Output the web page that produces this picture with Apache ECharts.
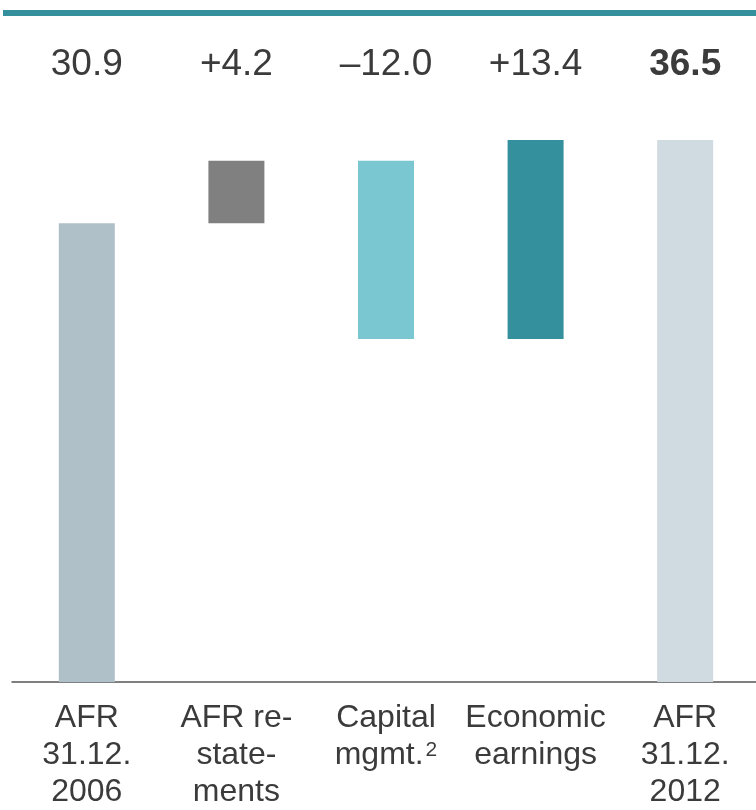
<!DOCTYPE html>
<html>
<head>
<meta charset="utf-8">
<script src="https://cdn.jsdelivr.net/npm/echarts@6/dist/echarts.min.js"></script>
<style>
  html, body { margin: 0; padding: 0; background: #fff; }
</style>
</head>
<body>
<div id="main" style="width:756px;height:810px"></div>
<script>
// categories along the bottom axis
var categories = ['AFR\n31.12.\n2006', 'AFR re-\nstate-\nments', 'Capital\nmgmt.{sup|2}', 'Economic\nearnings', 'AFR\n31.12.\n2012']
// labels shown above each bar
var valueLabels = ['30.9', '+4.2', '–12.0', '+13.4', '{b|36.5}']
// invisible base of each floating bar
var baseValues = [0, 30.9, 23.1, 23.1, 0]
// visible height of each bar
var barValues = [30.9, 4.2, 12.0, 13.4, 36.5]
var barColors = ['#b0c0c9', '#808080', '#7ac7d1', '#34909c', '#d0dae1']

var font = '"Liberation Sans", Arial, Helvetica, sans-serif'
var textColor = '#3b3b3b'

var myChart = echarts.init(document.getElementById('main'))

var option = {
  backgroundColor: '#fff',
  animation: false,
  grid: {
    left: 12,
    width: 748,
    top: 88,
    bottom: 128,
    outerBoundsMode: 'none'
  },
  xAxis: [
    {
      type: 'category',
      data: categories,
      position: 'bottom',
      axisLine: { lineStyle: { color: '#555', width: 1.5 } },
      axisTick: { show: false },
      axisLabel: {
        interval: 0,
        margin: 18,
        color: textColor,
        fontFamily: font,
        fontSize: 32,
        lineHeight: 37,
        rich: {
          sup: { fontFamily: font, fontSize: 21, color: textColor, lineHeight: 37, padding: [0, 0, 10, 2] }
        }
      }
    },
    {
      type: 'category',
      data: valueLabels,
      position: 'top',
      axisLine: { show: false },
      axisTick: { show: false },
      axisLabel: {
        interval: 0,
        margin: 5,
        color: textColor,
        fontFamily: font,
        fontSize: 37,
        rich: {
          b: { fontFamily: font, fontSize: 37, fontWeight: 'bold', color: textColor }
        }
      }
    }
  ],
  yAxis: {
    type: 'value',
    min: 0,
    max: 40,
    show: false,
    splitLine: { show: false }
  },
  graphic: [
    {
      type: 'rect',
      shape: { x: 3, y: 10, width: 760, height: 6 },
      style: { fill: '#34909c' }
    }
  ],
  series: [
    {
      type: 'bar',
      stack: 'wf',
      barWidth: 56,
      silent: true,
      itemStyle: { color: 'transparent' },
      data: baseValues
    },
    {
      type: 'bar',
      stack: 'wf',
      barWidth: 56,
      data: barValues.map(function (v, i) {
        return { value: v, itemStyle: { color: barColors[i] } }
      })
    }
  ]
}
myChart.setOption(option)
</script>
</body>
</html>
